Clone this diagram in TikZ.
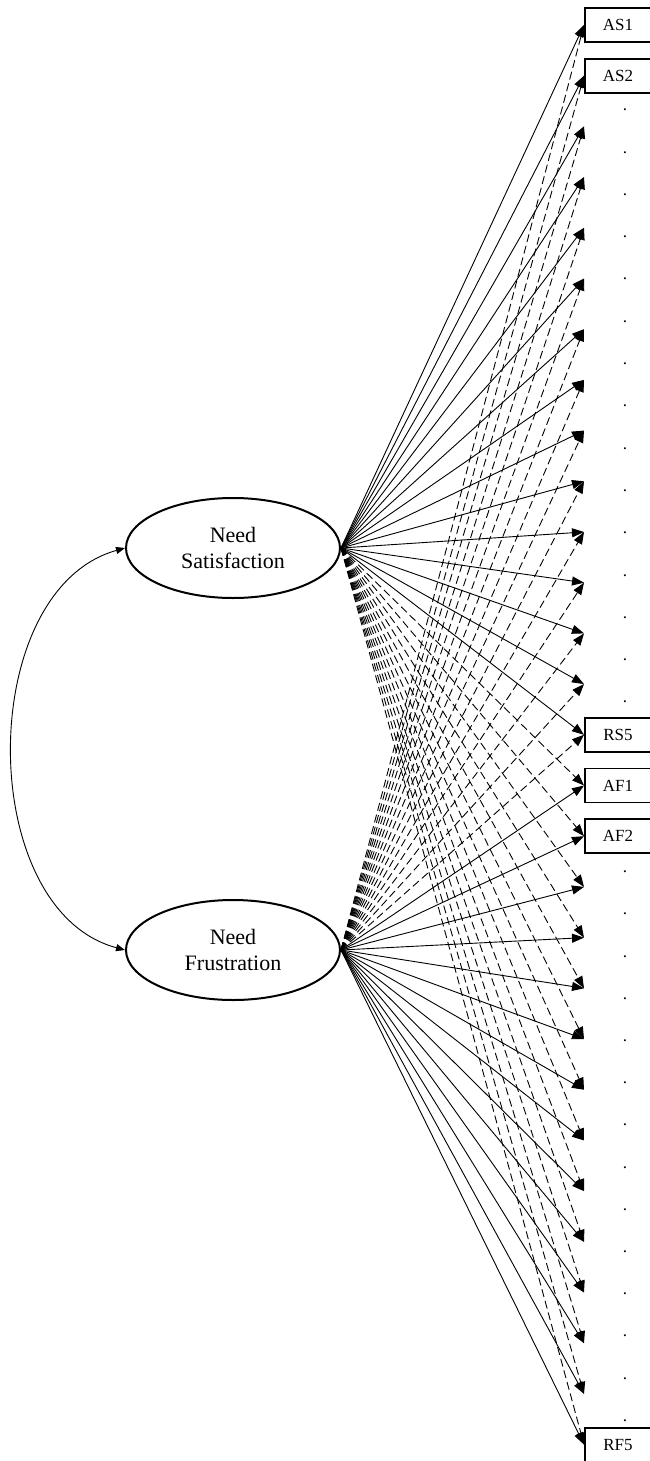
\documentclass[tikz,border=0pt]{standalone}
\usepackage{fontspec}
\setmainfont{Liberation Serif}
\usetikzlibrary{arrows.meta,shapes.geometric}
\begin{document}
\begin{tikzpicture}[x=0.5pt,y=-0.5pt,
  latent/.style={draw, line width=1pt, ellipse, minimum width=107pt, minimum height=50pt, inner sep=0pt, align=center, font=\fontsize{11}{13}\selectfont},
  obs/.style={draw, line width=0.9pt, rectangle, anchor=west, minimum width=40pt, minimum height=17pt, inner sep=0pt, font=\fontsize{8.5}{10}\selectfont},
  load/.style={line width=0.45pt, -{Triangle[length=6pt,width=4.5pt]}},
  cross/.style={load, dash pattern=on 4pt off 2pt},
  corr/.style={line width=0.45pt, {Triangle[length=4.5pt,width=3.5pt]}-{Triangle[length=4.5pt,width=3.5pt]}},
  dotmark/.style={inner sep=0pt, font=\fontsize{8.5}{10}\selectfont}
]
\useasboundingbox (0,0) rectangle (649,1461);

\node[latent] (NS) at (233,548) {Need\\Satisfaction};
\node[latent] (NF) at (233,950) {Need\\Frustration};

% targets
\foreach \i in {0,...,14} {
  \pgfmathsetmacro\yy{25+50.7*\i}
  \coordinate (s\i) at (584,\yy);
}
\foreach \j in {0,...,13} {
  \pgfmathsetmacro\yy{25+50.7*(15+\j)}
  \coordinate (f\j) at (584,\yy);
}

% boxes (cut by the right edge of the picture)
\node[obs] (AS1) at (s0) {\hspace*{-7pt}AS1};
\node[obs] (AS2) at (s1) {\hspace*{-7pt}AS2};
\node[obs] (RS5) at (s14) {\hspace*{-7pt}RS5};
\node[obs] (AF1) at (f0) {\hspace*{-7pt}AF1};
\node[obs] (AF2) at (f1) {\hspace*{-7pt}AF2};
\node[obs] (RF5) at (f13) {\hspace*{-7pt}RF5};

% dots
\foreach \k in {0,...,14} {
  \node[dotmark] (ds\k) at (625,{110+42.3*\k}) {.};
}
\foreach \k in {0,...,13} {
  \node[dotmark] (df\k) at (625,{872+42.2*\k}) {.};
}

% cross loadings (dashed)
\foreach \i in {0,...,14} { \draw[cross] (NF.east) -- (s\i); }
\foreach \j in {0,...,13} { \draw[cross] (NS.east) -- (f\j); }

% main loadings (solid)
\foreach \i in {0,...,14} { \draw[load] (NS.east) -- (s\i); }
\foreach \j in {0,...,13} { \draw[load] (NF.east) -- (f\j); }

% correlation
\draw[corr] (NS.west) .. controls (-25,590) and (-25,910) .. (NF.west);
\end{tikzpicture}
\end{document}
